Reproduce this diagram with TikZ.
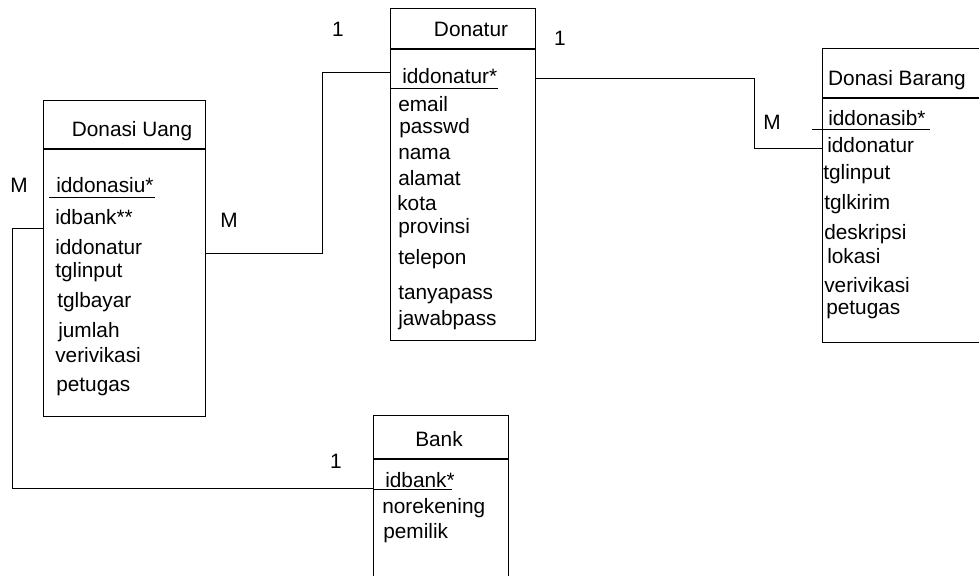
\documentclass[tikz,border=0pt]{standalone}
\usepackage{fontspec}
\setmainfont{Liberation Sans}
\usetikzlibrary{positioning, calc}

\begin{document}
\begin{tikzpicture}[x=0.025cm, y=-0.025cm,
  entity/.style={draw, line width=0.9pt, inner sep=0pt, anchor=north west},
  attr/.style={anchor=base west, inner sep=0pt, font=\fontsize{14.8}{16}\selectfont},
  title/.style={anchor=base, inner sep=0pt, font=\fontsize{14.8}{16}\selectfont},
  card/.style={anchor=base, inner sep=0pt, font=\fontsize{14.8}{16}\selectfont},
  link/.style={line width=0.7pt}]
  \useasboundingbox (0,0) rectangle (979,576);

  % Draw the entity boxes
  \node[entity, minimum width=4.05cm, minimum height=7.9cm] (du) at (43,100) {};
  \node[entity, minimum width=3.625cm, minimum height=8.3cm] (dn) at (390,8) {};
  \node[entity, minimum width=4.3cm, minimum height=7.35cm] (db) at (822,48) {};
  \node[entity, minimum width=3.375cm, minimum height=4.5cm] (bk) at (373,415) {};

  % Header lines
  \draw[line width=0.9pt] ($(du.north west)+(0,49)$) -- ($(du.north east)+(0,49)$);
  \draw[line width=0.9pt] ($(dn.north west)+(0,41)$) -- ($(dn.north east)+(0,41)$);
  \draw[line width=1.5pt] ($(dn.north west)+(0,41)$) -- ++(42,0);
  \draw[line width=0.9pt] ($(db.north west)+(0,50)$) -- ($(db.north east)+(0,50)$);
  \draw[line width=0.9pt] ($(bk.north west)+(0,44)$) -- ($(bk.north east)+(0,44)$);

  % Entity names
  \node[title] (du-t) at (132,137) {Donasi Uang};
  \node[title] (dn-t) at (471,37) {Donatur};
  \node[title] (db-t) at (897,86) {Donasi Barang};
  \node[title] (bk-t) at (439,446) {Bank};

  % Attributes of Donasi Uang
  \foreach \txt/\px/\py [count=\i] in {iddonasiu*/56/193, idbank**/55/225,
      iddonatur/55/255, tglinput/55/278, tglbayar/57/308, jumlah/58/338,
      verivikasi/55/363, petugas/56/391}
    \node[attr] (du-\i) at (\px,\py) {\txt};

  % Attributes of Donatur
  \foreach \txt/\px/\py [count=\i] in {iddonatur*/402/84, email/398/112,
      passwd/399/134, nama/398/160, alamat/398/186, kota/397/211,
      provinsi/398/234, telepon/398/265, tanyapass/398/300, jawabpass/398/326}
    \node[attr] (dn-\i) at (\px,\py) {\txt};

  % Attributes of Donasi Barang
  \foreach \txt/\px/\py [count=\i] in {iddonasib*/828/126, iddonatur/827/153,
      tglinput/823/180, tglkirim/824/210, deskripsi/824/240, lokasi/827/264,
      verivikasi/824/293, petugas/826/315}
    \node[attr] (db-\i) at (\px,\py) {\txt};

  % Attributes of Bank
  \foreach \txt/\px/\py [count=\i] in {idbank*/385/487, norekening/382/513,
      pemilik/383/538}
    \node[attr] (bk-\i) at (\px,\py) {\txt};

  % Underline the keys
  \draw[link] (49,197) -- (155,197);
  \draw[link] (390,88) -- (498,88);
  \draw[link] (812,129) -- (930,129);
  \draw[link] (373,489) -- (452,489);

  % Relations
  \draw[link] ($(dn.north west)+(0,64)$) -- ++(-68,0) |- ($(du.north east)+(0,153)$);
  \draw[link] ($(dn.north east)+(0,70)$) -- ++(218,0) |- ($(db.north west)+(0,100)$);
  \draw[link] ($(du.north west)+(0,128)$) -- ++(-31,0) |- ($(bk.north west)+(0,73)$);

  % Cardinalities
  \node[card] (c1) at (338,37) {1};
  \node[card] (c2) at (229,228) {M};
  \node[card] (c3) at (560,46) {1};
  \node[card] (c4) at (772,130) {M};
  \node[card] (c5) at (19,193) {M};
  \node[card] (c6) at (336,468) {1};
\end{tikzpicture}
\end{document}
